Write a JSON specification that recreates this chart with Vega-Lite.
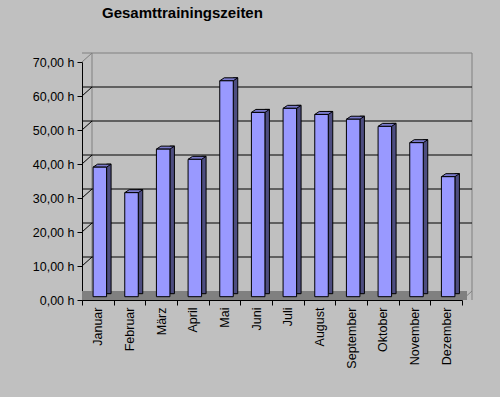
{
  "$schema": "https://vega.github.io/schema/vega-lite/v6.json",
  "width": 380,
  "height": 238,
  "autosize": {"type": "none"},
  "padding": {"left": 82, "top": 62, "right": 38, "bottom": 97},
  "background": "#c0c0c0",
  "config": {
    "view": {"stroke": null},
    "font": "Liberation Sans",
    "axis": {"domainColor": "black", "tickColor": "black", "tickSize": 5, "labelFontSize": 12.5, "labelColor": "black", "labelFont": "Liberation Sans", "labelOverlap": false, "grid": false, "title": null},
    "axisY": {"labelPadding": 3, "labelBound": false, "tickCount": 8, "labelOverlap": false, "labelFontSize": 12.5},
    "axisX": {"labelAngle": -90, "labelPadding": 2, "tickBand": "extent"}
  },
  "title": {"text": "Gesamttrainingszeiten", "anchor": "start", "frame": "group", "dx": 20, "fontSize": 15, "fontWeight": "bold", "color": "black", "font": "Liberation Sans", "baseline": "alphabetic", "offset": 20},
  "datasets": {
    "months": [
      {"monat": "Januar", "stunden": 38.1},
      {"monat": "Februar", "stunden": 30.6},
      {"monat": "März", "stunden": 43.4},
      {"monat": "April", "stunden": 40.4},
      {"monat": "Mai", "stunden": 63.5},
      {"monat": "Juni", "stunden": 54.2},
      {"monat": "Juli", "stunden": 55.4},
      {"monat": "August", "stunden": 53.6},
      {"monat": "September", "stunden": 52.2},
      {"monat": "Oktober", "stunden": 50.1},
      {"monat": "November", "stunden": 45.3},
      {"monat": "Dezember", "stunden": 35.3}
    ],
    "grid": [{"v": 10}, {"v": 20}, {"v": 30}, {"v": 40}, {"v": 50}, {"v": 60}],
    "wall": [{}]
  },
  "layer": [
    {
      "data": {"name": "wall"},
      "mark": {"type": "rule", "stroke": "#808080", "strokeWidth": 9, "xOffset": 5, "x2Offset": 5, "yOffset": -4.5},
      "encoding": {"y": {"datum": 0, "type": "quantitative", "scale": {"domain": [0, 70], "nice": false}, "axis": {"values": [0, 10, 20, 30, 40, 50, 60, 70], "labelOverlap": false, "labelFontSize": 12.5, "labelExpr": "replace(format(datum.value, '.2f'), '.', ',') + ' h'"}}}
    },
    {
      "data": {"name": "wall"},
      "mark": {"type": "rule", "stroke": "#808080", "strokeWidth": 1, "xOffset": 10, "x2Offset": 10, "yOffset": -9},
      "encoding": {"y": {"datum": 70, "type": "quantitative", "scale": {"domain": [0, 70], "nice": false}, "axis": {"values": [0, 10, 20, 30, 40, 50, 60, 70], "labelOverlap": false, "labelFontSize": 12.5, "labelExpr": "replace(format(datum.value, '.2f'), '.', ',') + ' h'"}}}
    },
    {
      "data": {"name": "wall"},
      "mark": {"type": "rule", "stroke": "#808080", "strokeWidth": 1, "xOffset": 10, "yOffset": -9, "y2Offset": -9},
      "encoding": {"x": {"value": 0}}
    },
    {
      "data": {"name": "wall"},
      "mark": {"type": "rule", "stroke": "#808080", "strokeWidth": 1, "xOffset": 10, "yOffset": -9, "y2Offset": -9},
      "encoding": {"x": {"value": "width"}}
    },
    {
      "data": {"name": "wall"},
      "mark": {"type": "rule", "stroke": "#808080", "strokeWidth": 1, "x2Offset": 10, "y2Offset": -9},
      "encoding": {"x": {"value": 0}, "x2": {"value": 0}, "y": {"datum": 70, "type": "quantitative", "scale": {"domain": [0, 70], "nice": false}, "axis": {"values": [0, 10, 20, 30, 40, 50, 60, 70], "labelOverlap": false, "labelFontSize": 12.5, "labelExpr": "replace(format(datum.value, '.2f'), '.', ',') + ' h'"}}, "y2": {"datum": 70}}
    },
    {
      "data": {"name": "wall"},
      "mark": {"type": "rule", "stroke": "#808080", "strokeWidth": 1, "x2Offset": 10, "y2Offset": -9},
      "encoding": {"x": {"value": "width"}, "x2": {"value": "width"}, "y": {"datum": 0, "type": "quantitative", "scale": {"domain": [0, 70], "nice": false}, "axis": {"values": [0, 10, 20, 30, 40, 50, 60, 70], "labelOverlap": false, "labelFontSize": 12.5, "labelExpr": "replace(format(datum.value, '.2f'), '.', ',') + ' h'"}}, "y2": {"datum": 0}}
    },
    {
      "data": {"name": "grid"},
      "mark": {"type": "rule", "stroke": "black", "strokeWidth": 1, "xOffset": 10, "x2Offset": 10, "yOffset": -9},
      "encoding": {"y": {"field": "v", "type": "quantitative", "scale": {"domain": [0, 70], "nice": false}, "axis": {"values": [0, 10, 20, 30, 40, 50, 60, 70], "labelOverlap": false, "labelFontSize": 12.5, "labelExpr": "replace(format(datum.value, '.2f'), '.', ',') + ' h'"}}}
    },
    {
      "data": {"name": "grid"},
      "mark": {"type": "rule", "stroke": "black", "strokeWidth": 1, "x2Offset": 10, "y2Offset": -9},
      "encoding": {"x": {"value": 0}, "x2": {"value": 0}, "y": {"field": "v", "type": "quantitative", "scale": {"domain": [0, 70], "nice": false}, "axis": {"values": [0, 10, 20, 30, 40, 50, 60, 70], "labelOverlap": false, "labelFontSize": 12.5, "labelExpr": "replace(format(datum.value, '.2f'), '.', ',') + ' h'"}}, "y2": {"field": "v"}}
    },
    {
      "data": {"name": "months"},
      "mark": {"type": "bar", "width": 4.5, "xOffset": 11, "yOffset": -6.3, "y2Offset": -6.3, "fill": "#4d4d80", "stroke": "black", "strokeWidth": 1},
      "encoding": {
        "x": {"field": "monat", "type": "nominal", "sort": null, "scale": {"type": "band", "paddingInner": 0, "paddingOuter": 0}},
        "y": {"field": "stunden", "type": "quantitative", "scale": {"domain": [0, 70], "nice": false}, "axis": {"values": [0, 10, 20, 30, 40, 50, 60, 70], "labelOverlap": false, "labelFontSize": 12.5, "labelExpr": "replace(format(datum.value, '.2f'), '.', ',') + ' h'"}}
      }
    },
    {
      "data": {"name": "months"},
      "mark": {"type": "point", "shape": "M-6.75,0L6.75,0L11.25,-3L-2.25,-3Z", "size": 4, "filled": true, "fill": "#7a7acc", "stroke": "black", "strokeWidth": 1, "opacity": 1, "xOffset": 2, "yOffset": -3.3},
      "encoding": {
        "x": {"field": "monat", "type": "nominal", "sort": null, "scale": {"type": "band", "paddingInner": 0, "paddingOuter": 0}},
        "y": {"field": "stunden", "type": "quantitative", "scale": {"domain": [0, 70], "nice": false}, "axis": {"values": [0, 10, 20, 30, 40, 50, 60, 70], "labelOverlap": false, "labelFontSize": 12.5, "labelExpr": "replace(format(datum.value, '.2f'), '.', ',') + ' h'"}}
      }
    },
    {
      "data": {"name": "months"},
      "mark": {"type": "bar", "width": 13.5, "xOffset": 2, "yOffset": -3.3, "y2Offset": -3.3, "fill": "#9999ff", "stroke": "black", "strokeWidth": 1},
      "encoding": {
        "x": {"field": "monat", "type": "nominal", "sort": null, "scale": {"type": "band", "paddingInner": 0, "paddingOuter": 0}},
        "y": {"field": "stunden", "type": "quantitative", "scale": {"domain": [0, 70], "nice": false}, "axis": {"values": [0, 10, 20, 30, 40, 50, 60, 70], "labelOverlap": false, "labelFontSize": 12.5, "labelExpr": "replace(format(datum.value, '.2f'), '.', ',') + ' h'"}}
      }
    }
  ]
}
